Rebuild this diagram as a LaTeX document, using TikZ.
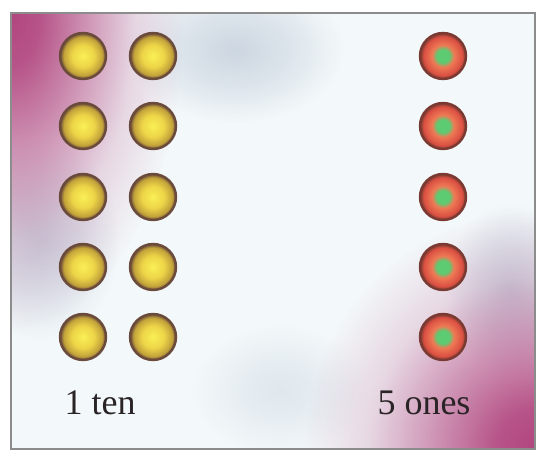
\documentclass[tikz,border=0pt]{standalone}
\usepackage{fontspec}
\setmainfont{Liberation Serif}
\usetikzlibrary{positioning,fadings}
\definecolor{ink}{HTML}{2A2426}
\definecolor{frame}{HTML}{8C8C8C}
\definecolor{paper}{HTML}{F3F8FA}
\definecolor{mag}{HTML}{B2467F}
\definecolor{haze}{HTML}{BCC8D6}
\definecolor{tenhi}{HTML}{F9EF55}
\definecolor{tenmid}{HTML}{EDD548}
\definecolor{tenlo}{HTML}{C2A23A}
\definecolor{tenrim}{HTML}{6A4A3A}
\definecolor{onegreen}{HTML}{5CCB72}
\definecolor{oneorange}{HTML}{EE7A55}
\definecolor{onered}{HTML}{DB5042}
\definecolor{onerim}{HTML}{7A3A32}
\pgfdeclareradialshading{cornerfadesh}{\pgfpoint{0bp}{0bp}}{color(0bp)=(white); color(3bp)=(white!92!black); color(8bp)=(white!55!black); color(13bp)=(white!18!black); color(18bp)=(black); color(50bp)=(black)}
\pgfdeclareradialshading{hazefadesh}{\pgfpoint{0bp}{0bp}}{color(0bp)=(white!70!black); color(9bp)=(white!40!black); color(18bp)=(black); color(50bp)=(black)}
\pgfdeclarefading{cornerfade}{\pgfuseshading{cornerfadesh}}
\pgfdeclarefading{hazefade}{\pgfuseshading{hazefadesh}}
\pgfdeclareradialshading{tensh}{\pgfpoint{0bp}{0bp}}{color(0bp)=(tenhi); color(12bp)=(tenmid); color(21bp)=(tenlo); color(25bp)=(tenrim); color(50bp)=(tenrim)}
\pgfdeclareradialshading{onesh}{\pgfpoint{0bp}{0bp}}{color(0bp)=(onegreen); color(7bp)=(onegreen); color(12bp)=(oneorange); color(21bp)=(onered); color(25bp)=(onerim); color(50bp)=(onerim)}
\tikzset{
  counter/.style={circle, minimum size=46pt, inner sep=0pt, line width=2.4pt},
  tencounter/.style={counter, shading=tensh, draw=tenrim},
  onecounter/.style={counter, shading=onesh, draw=onerim},
  cornerglow/.style={fill=mag, path fading=cornerfade},
  hazeglow/.style={fill=haze, path fading=hazefade},
  lab/.style={font=\fontsize{36}{40}\selectfont, text=ink},
}

\begin{document}
\begin{tikzpicture}[x=1pt, y=-1pt]
  \useasboundingbox (0,0) rectangle (542,454);
  \fill[white] (0,0) rectangle (542,454);
  % background of the card
  \begin{scope}
    \clip (11,13) rectangle (535,449);
    \fill[paper] (11,13) rectangle (535,449);
    \path[hazeglow] (235,50) ellipse (150 and 100);
    \path[hazeglow] (510,290) ellipse (90 and 120);
    \path[hazeglow] (40,240) ellipse (110 and 140);
    \path[hazeglow, opacity=0.5] (280,390) ellipse (120 and 90);
    \path[cornerglow] (11,13) ellipse (240 and 440);
    \path[cornerglow] (535,449) ellipse (320 and 330);
  \end{scope}
  \draw[frame, line width=1.5pt] (11,13) rectangle (535,449);
  % counters
  \foreach \r [count=\i] in {56,126,197,267,337} {
    \node[tencounter] (tenA\i) at (83,\r) {};
    \node[tencounter] (tenB\i) at (153,\r) {};
    \node[onecounter] (one\i) at (443,\r) {};
  }
  \node[lab] (tenlab) at (100,403) {1 ten};
  \node[lab] (oneslab) at (424,403) {5 ones};
\end{tikzpicture}
\end{document}
